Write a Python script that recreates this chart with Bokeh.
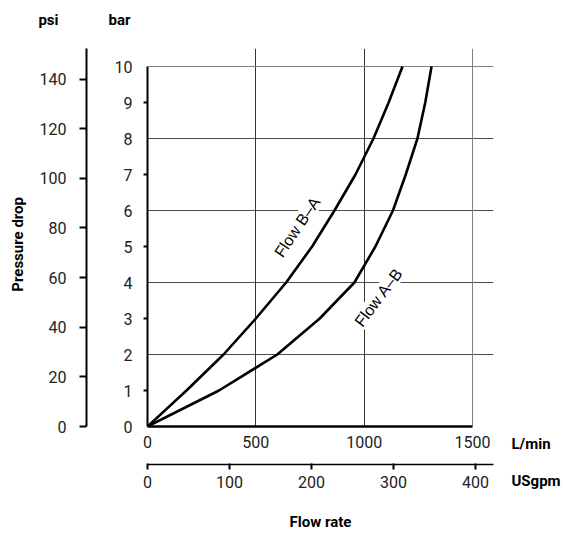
from bokeh.plotting import figure
from bokeh.models import LinearAxis, Range1d, FixedTicker, Label, Grid
from bokeh.embed import file_html
from bokeh.resources import INLINE

# ---- data ----
bar_steps = [0, 1, 2, 3, 4, 5, 6, 7, 8, 9, 10]
flow_ba_lmin = [0, 180, 351, 500, 640, 760, 863, 960, 1043, 1113, 1177]
flow_ab_lmin = [0, 330, 599, 795, 955, 1052, 1133, 1192, 1246, 1282, 1311]

bar_ticks = [0, 1, 2, 3, 4, 5, 6, 7, 8, 9, 10]
bar_minor = [1, 3, 5, 7, 9]
bar_grid = [2, 4, 6, 8]
psi_ticks = [0, 20, 40, 60, 80, 100, 120, 140]
lmin_ticks = [0, 500, 1000, 1500]
lmin_grid = [500, 1000]
usgpm_ticks = [0, 100, 200, 300, 400]

PSI_PER_BAR = 14.5037738
LPM_PER_GPM = 3.785411784
X_MAX = 1500
Y_MAX = 10
X_END = 1597
Y_END = 10.5

FONT = "Roboto"
TICK_SIZE = "16px"
BOLD_SIZE = "15px"

p = figure(width=563, height=533, x_range=Range1d(0, X_END), y_range=Range1d(0, Y_END),
           output_backend="svg", toolbar_location=None,
           x_axis_location=None, y_axis_location=None,
           min_border_left=147, min_border_right=70, min_border_top=48, min_border_bottom=107)
p.outline_line_color = None
p.background_fill_color = "white"
p.border_fill_color = "white"
# drop the default grids
p.center = [r for r in p.center if not isinstance(r, Grid)]

p.extra_y_ranges = {"psi": Range1d(0, Y_END * PSI_PER_BAR)}
p.extra_x_ranges = {"gpm": Range1d(0, X_END / LPM_PER_GPM)}

# grids (inner) and box edges
p.add_layout(Grid(dimension=1, ticker=FixedTicker(ticks=bar_grid), bounds=(0, X_MAX),
                  grid_line_color="#4d4d4d", grid_line_width=1))
p.add_layout(Grid(dimension=0, ticker=FixedTicker(ticks=lmin_grid), bounds=(0, Y_MAX),
                  grid_line_color="#333333", grid_line_width=1))
p.add_layout(Grid(dimension=1, ticker=FixedTicker(ticks=[Y_MAX]), bounds=(0, X_MAX),
                  grid_line_color="#808080", grid_line_width=1))
p.add_layout(Grid(dimension=0, ticker=FixedTicker(ticks=[X_MAX]), bounds=(0, Y_MAX),
                  grid_line_color="#808080", grid_line_width=1))

def style_labels(ax):
    ax.major_label_text_font = FONT
    ax.major_label_text_font_size = TICK_SIZE
    ax.major_label_text_color = "#222222"

def style_title(ax):
    ax.axis_label_text_font = FONT
    ax.axis_label_text_font_size = BOLD_SIZE
    ax.axis_label_text_font_style = "bold"
    ax.axis_label_text_color = "black"

# bar axis (left, next to frame)
bar_axis = LinearAxis(ticker=FixedTicker(ticks=bar_ticks, minor_ticks=bar_minor), bounds=(0, Y_MAX))
bar_axis.axis_line_width = 2
bar_axis.axis_line_color = "black"
bar_axis.major_tick_line_color = None
bar_axis.major_tick_out = 4
bar_axis.major_tick_in = 0
bar_axis.minor_tick_out = 4
bar_axis.minor_tick_in = 0
bar_axis.minor_tick_line_width = 2
bar_axis.minor_tick_line_color = "black"
bar_axis.major_label_standoff = 11
bar_axis.axis_label = " "
bar_axis.axis_label_standoff = 21
bar_axis.axis_label_text_font_size = "1px"
style_labels(bar_axis)
p.add_layout(bar_axis, "left")

# psi axis (left, outer)
psi_axis = LinearAxis(y_range_name="psi", ticker=FixedTicker(ticks=psi_ticks),
                      bounds=(0, Y_END * PSI_PER_BAR))
psi_axis.axis_line_width = 2
psi_axis.major_tick_out = 7
psi_axis.major_tick_in = 0
psi_axis.major_tick_line_width = 2
psi_axis.minor_tick_line_color = None
psi_axis.major_label_standoff = 13
style_labels(psi_axis)
p.add_layout(psi_axis, "left")

# L/min axis (below, next to frame)
lmin_axis = LinearAxis(ticker=FixedTicker(ticks=lmin_ticks), bounds=(0, X_MAX))
lmin_axis.axis_line_width = 2.5
lmin_axis.major_tick_line_color = None
lmin_axis.major_tick_out = 0
lmin_axis.major_tick_in = 0
lmin_axis.minor_tick_line_color = None
lmin_axis.major_label_standoff = 9
lmin_axis.axis_label = " "
lmin_axis.axis_label_standoff = 10
lmin_axis.axis_label_text_font_size = "1px"
style_labels(lmin_axis)
p.add_layout(lmin_axis, "below")

# USgpm axis (below, outer)
gpm_axis = LinearAxis(x_range_name="gpm", ticker=FixedTicker(ticks=usgpm_ticks),
                      bounds=(0, X_END / LPM_PER_GPM), axis_label="Flow rate")
gpm_axis.axis_line_width = 1.5
gpm_axis.major_tick_out = 5
gpm_axis.major_tick_in = 1
gpm_axis.major_tick_line_width = 2
gpm_axis.minor_tick_line_color = None
gpm_axis.major_label_standoff = 6
gpm_axis.axis_label_standoff = 22
style_labels(gpm_axis)
style_title(gpm_axis)
p.add_layout(gpm_axis, "below")

# curves
p.line(flow_ba_lmin, bar_steps, line_color="black", line_width=2.6, line_join="round")
p.line(flow_ab_lmin, bar_steps, line_color="black", line_width=2.6, line_join="round")

# curve labels
for txt, x, y, ang in [("Flow B\u2013A", 691, 5.54, 56), ("Flow A\u2013B", 1067, 3.59, 53)]:
    p.add_layout(Label(x=x, y=y, text=txt, angle=ang, angle_units="deg",
                       text_align="center", text_baseline="middle",
                       text_font="Liberation Sans", text_font_size="16px",
                       background_fill_color="white", text_color="black"))

def unit_label(txt, x, y, side, align="center", baseline="alphabetic", line_height=1.2, angle=0):
    p.add_layout(Label(x=x, y=y, text=txt, text_align=align, text_baseline=baseline,
                       angle=angle, angle_units="deg",
                       text_font=FONT, text_font_size=BOLD_SIZE, text_font_style="bold",
                       text_line_height=line_height, text_color="black"), side)

unit_label("psi", -457, 11.29, "above")
unit_label("bar", -129, 11.29, "above")
# the two flow units share the right-hand margin, one per axis row
unit_label("L/min\nUSgpm", 1680, -0.225, "right", align="left", baseline="top", line_height=2.1)
unit_label("Pressure drop", -600, 5.06, "left", baseline="middle", angle=90)

open("out.html", "w").write(file_html(p, INLINE))
